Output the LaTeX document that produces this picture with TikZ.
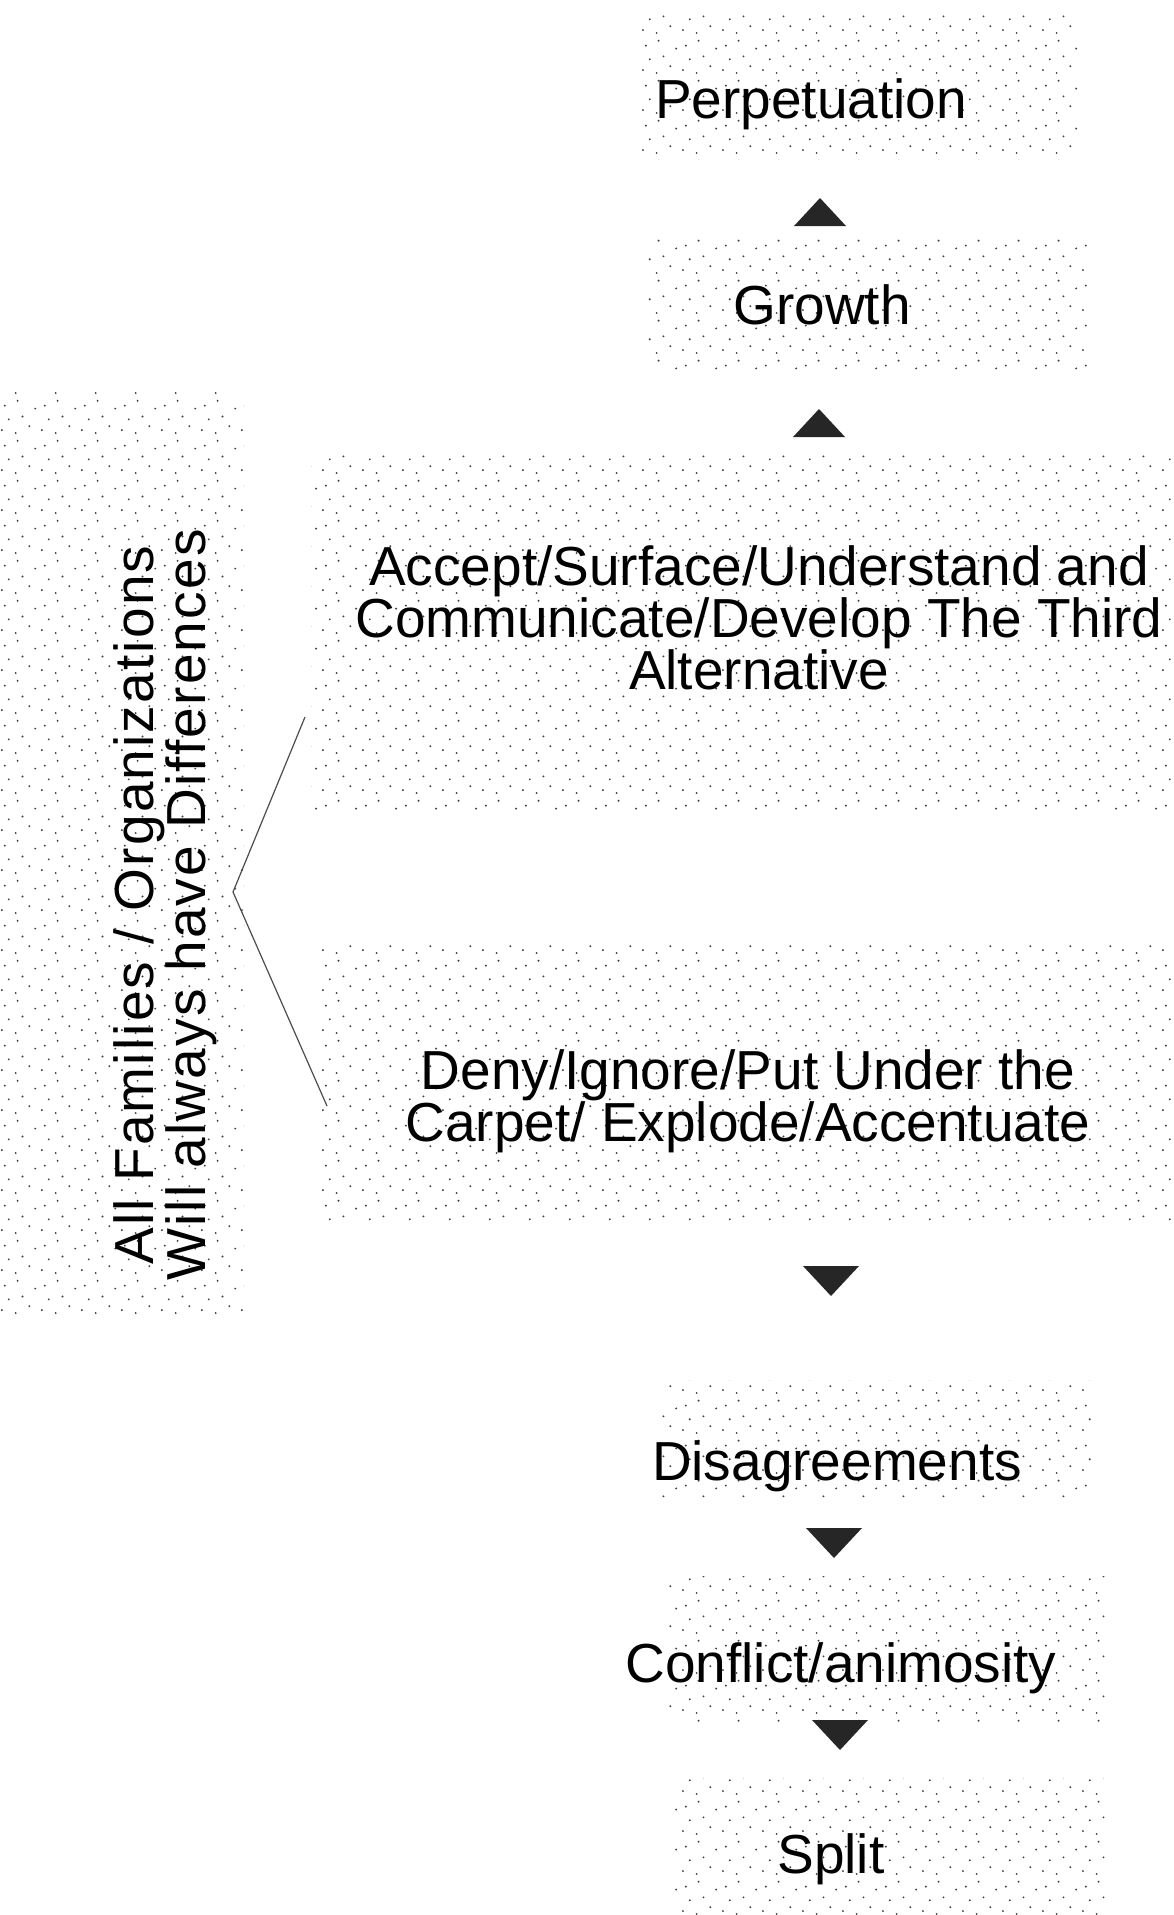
\documentclass[tikz,border=0pt]{standalone}
\usepackage{fontspec}
\setmainfont{Liberation Sans}
\newfontfamily\spacedfont[LetterSpace=4]{Liberation Sans}
\usetikzlibrary{patterns}
\pgfdeclarepatternformonly{stipple}{\pgfqpoint{0pt}{0pt}}{\pgfqpoint{40pt}{40pt}}{\pgfqpoint{40pt}{40pt}}{%
  \pgfpathcircle{\pgfqpoint{3pt}{5pt}}{1.1pt}
  \pgfpathcircle{\pgfqpoint{17pt}{2pt}}{1.1pt}
  \pgfpathcircle{\pgfqpoint{31pt}{9pt}}{1.1pt}
  \pgfpathcircle{\pgfqpoint{10pt}{16pt}}{1.1pt}
  \pgfpathcircle{\pgfqpoint{24pt}{19pt}}{1.1pt}
  \pgfpathcircle{\pgfqpoint{37pt}{27pt}}{1.1pt}
  \pgfpathcircle{\pgfqpoint{6pt}{30pt}}{1.1pt}
  \pgfpathcircle{\pgfqpoint{19pt}{35pt}}{1.1pt}
  \pgfusepath{fill}}
\tikzset{
  stip/.style={pattern=stipple,pattern color=black!75},
  lbl/.style={font=\fontsize{55}{51}\selectfont,align=center,inner sep=0pt},
  tri/.style={fill=black!85}
}
\def\stepnode{\node[lbl]}

\begin{document}
\begin{tikzpicture}[x=1pt,y=-1pt]
\useasboundingbox (0,0) rectangle (1174,1915);
% stippled panels
\path[stip] (641,10) rectangle (1081,159);
\path[stip] (647,238) rectangle (1087,373);
\path[stip] (311,452) rectangle (1174,812);
\path[stip] (320,941) rectangle (1174,1222);
\path[stip] (660,1380) rectangle (1093,1497);
\path[stip] (666,1576) rectangle (1106,1722);
\path[stip] (672,1778) rectangle (1106,1915);
\path[stip] (0,391) rectangle (244,1317);
% labels
\stepnode (perp) at (811,104) {Perpetuation};
\stepnode (grow) at (822,305) {Growth};
\stepnode (accept) at (759,618) {Accept/Surface/Understand and\\Communicate/Develop The Third\\Alternative};
\node[lbl,font=\fontsize{55}{47}\selectfont] (deny) at (748,1101) {Deny/Ignore/Put Under the\\Carpet/ Explode/Accentuate};
\stepnode (disag) at (837,1466) {Disagreements};
\stepnode (confl) at (841,1668) {Conflict/animosity};
\stepnode (split) at (831,1859) {Split};
\node[lbl,rotate=90,font=\spacedfont\fontsize{55}{45}\selectfont] (fam) at (165,905) {All Families / Organizations\\Will always have Differences};
% arrow heads
\foreach \x/\y in {820/212,819/423}
  \fill[tri] (\x-26,\y+14) -- (\x+26,\y+14) -- (\x,\y-14) -- cycle;
\foreach \x/\y in {831/1281,834/1543,840/1735}
  \fill[tri] (\x-28,\y-15) -- (\x+28,\y-15) -- (\x,\y+15) -- cycle;
% bracket
\coordinate (btop) at (305,717);
\coordinate (bmid) at (233,892);
\coordinate (bbot) at (327,1106);
\draw[black!70,line width=1.2pt] (btop) -- (bmid) -- (bbot);
\end{tikzpicture}
\end{document}
